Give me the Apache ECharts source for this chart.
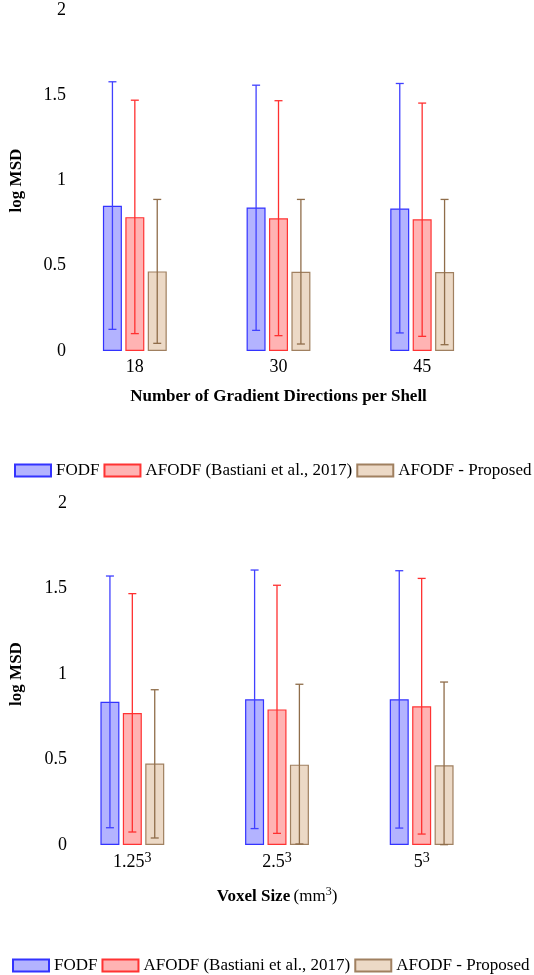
<!DOCTYPE html>
<html><head><meta charset="utf-8">
<script src="https://cdn.jsdelivr.net/npm/echarts@6/dist/echarts.min.js"></script>
<style>html,body{margin:0;padding:0;background:#fff}#c{width:534px;height:975px}</style>
</head><body><div id="c"></div>
<script>
// ---- Data (top chart: gradient directions) ----
var categoriesTop = ['18', '30', '45'];
var fodfTop      = [0.852, 0.842, 0.836];
var fodfTopLo    = [0.127, 0.121, 0.106];
var fodfTopHi    = [1.579, 1.559, 1.569];
var afodfTop     = [0.785, 0.778, 0.772];
var afodfTopLo   = [0.102, 0.090, 0.086];
var afodfTopHi   = [1.471, 1.468, 1.454];
var propTop      = [0.467, 0.465, 0.463];
var propTopLo    = [0.045, 0.041, 0.037];
var propTopHi    = [0.889, 0.889, 0.889];

// ---- Data (bottom chart: voxel size) ----
var categoriesBottom = ['1.25', '2.5', '5'];
var fodfBot      = [0.838, 0.852, 0.852];
var fodfBotLo    = [0.101, 0.096, 0.099];
var fodfBotHi    = [1.573, 1.608, 1.604];
var afodfBot     = [0.772, 0.793, 0.811];
var afodfBotLo   = [0.076, 0.068, 0.064];
var afodfBotHi   = [1.470, 1.519, 1.559];
var propBot      = [0.476, 0.470, 0.466];
var propBotLo    = [0.041, 0.006, 0.002];
var propBotHi    = [0.908, 0.940, 0.953];

var yTicks = [0, 0.5, 1, 1.5, 2];
var seriesNames = ['FODF', 'AFODF (Bastiani et al., 2017)', 'AFODF - Proposed'];

var fills   = ['#b3b3ff', '#ffb3b3', '#ecd9c6'];
var borders = ['#3333ff', '#ff3333', '#a08060'];
var errCols = ['#4040ff', '#ff3030', '#8f6d4a'];
var offsets = [-22.4, 0, 22.4];

var serif = 'Liberation Serif';

function errSeries(gi, si, lo, hi) {
  var data = lo.map(function (v, i) { return [i, v, hi[i]]; });
  return {
    type: 'custom', xAxisIndex: gi, yAxisIndex: gi, silent: true, z: 5,
    data: data,
    renderItem: function (params, api) {
      var idx = api.value(0);
      var pLo = api.coord([idx, api.value(1)]);
      var pHi = api.coord([idx, api.value(2)]);
      var x = pLo[0] + offsets[si];
      var w = 4;
      var st = { stroke: errCols[si], lineWidth: 1.3 };
      return { type: 'group', children: [
        { type: 'line', shape: { x1: x, y1: pLo[1], x2: x, y2: pHi[1] }, style: st },
        { type: 'line', shape: { x1: x - w, y1: pHi[1], x2: x + w, y2: pHi[1] }, style: st },
        { type: 'line', shape: { x1: x - w, y1: pLo[1], x2: x + w, y2: pLo[1] }, style: st }
      ]};
    }
  };
}

function barSeries(gi, si, vals) {
  return {
    name: seriesNames[si], type: 'bar', xAxisIndex: gi, yAxisIndex: gi,
    barWidth: 19, barGap: '18%',
    itemStyle: { color: fills[si], borderColor: borders[si], borderWidth: 1.2 },
    data: vals
  };
}

var yAxisBase = function (gi, gap, margin) {
  return {
    type: 'value', gridIndex: gi, min: 0, max: 2, interval: 0.5,
    axisLine: { show: false }, axisTick: { show: false }, splitLine: { show: false },
    axisLabel: { color: '#000', fontFamily: serif, fontSize: 18, margin: margin,
      formatter: function (v) { return String(v); } },
    name: 'log MSD', nameLocation: 'middle', nameGap: gap,
    nameTextStyle: { fontFamily: serif, fontWeight: 'bold', fontSize: 17, color: '#000' }
  };
};

var legendBase = function (top, left) {
  return {
    top: top, left: left, width: 532, padding: 0, itemWidth: 36, itemHeight: 12, itemGap: 4,
    data: seriesNames,
    textStyle: { fontFamily: serif, fontSize: 17, color: '#000' },
    icon: 'rect'
  };
};

var option = {
  animation: false,
  legend: [legendBase(462, 14), legendBase(957, 12)],
  grid: [
    { left: 58, right: 40, top: 10, height: 341 },
    { left: 51, right: 40, top: 503, height: 342 }
  ],
  xAxis: [
    { type: 'category', gridIndex: 0, data: categoriesTop,
      axisLine: { show: false }, axisTick: { show: false },
      axisLabel: { color: '#000', fontFamily: serif, fontSize: 18, margin: 7 },
      name: 'Number of Gradient Directions per Shell', nameLocation: 'middle', nameGap: 37,
      nameTextStyle: { fontFamily: serif, fontWeight: 'bold', fontSize: 17, color: '#000' } },
    { type: 'category', gridIndex: 1, data: categoriesBottom,
      axisLine: { show: false }, axisTick: { show: false },
      axisLabel: { color: '#000', fontFamily: serif, fontSize: 18, margin: 6,
        formatter: function (v) { return '{b|' + v + '}{s|3}'; },
        rich: { b: { fontFamily: serif, fontSize: 18, color: '#000', lineHeight: 22 },
                s: { fontFamily: serif, fontSize: 14, color: '#000', verticalAlign: 'top', lineHeight: 14 } } },
      name: '{b|Voxel Size} {n|(mm}{s|3}{n|)}', nameLocation: 'middle', nameGap: 41,
      nameTextStyle: { rich: {
        b: { fontFamily: serif, fontWeight: 'bold', fontSize: 17, color: '#000', lineHeight: 21 },
        n: { fontFamily: serif, fontSize: 17, color: '#000', lineHeight: 21 },
        s: { fontFamily: serif, fontSize: 12, color: '#000', verticalAlign: 'top', lineHeight: 12 } } } }
  ],
  yAxis: [yAxisBase(0, 38, -3), yAxisBase(1, 35, -7)],
  series: [
    barSeries(0, 0, fodfTop), barSeries(0, 1, afodfTop), barSeries(0, 2, propTop),
    errSeries(0, 0, fodfTopLo, fodfTopHi), errSeries(0, 1, afodfTopLo, afodfTopHi), errSeries(0, 2, propTopLo, propTopHi),
    barSeries(1, 0, fodfBot), barSeries(1, 1, afodfBot), barSeries(1, 2, propBot),
    errSeries(1, 0, fodfBotLo, fodfBotHi), errSeries(1, 1, afodfBotLo, afodfBotHi), errSeries(1, 2, propBotLo, propBotHi)
  ]
};

var chart = echarts.init(document.getElementById('c'), null, { renderer: 'canvas' });
chart.setOption(option);
</script>
</body></html>
